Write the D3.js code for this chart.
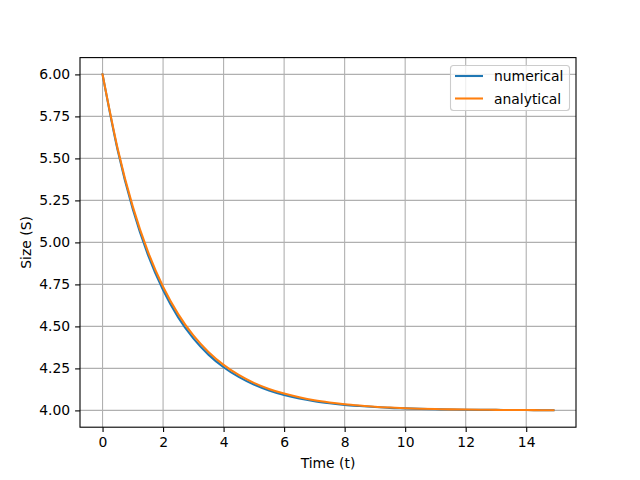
<!DOCTYPE html>
<html><head><meta charset="utf-8">
<script src="https://cdn.jsdelivr.net/npm/d3@7"></script>
<style>body{margin:0;background:#fff}svg{display:block;font-family:"DejaVu Sans",sans-serif}</style>
</head><body><svg id="c" width="640" height="480"></svg>
<script>
const times = [0,0.5,1,1.5,2,2.5,3,3.5,4,4.5,5,5.5,6,6.5,7,7.5,8,8.5,9,9.5,10,10.5,11,11.5,12,12.5,13,13.5,14,14.5,14.9];
const numerical = [6.000,5.548,5.197,4.926,4.717,4.554,4.429,4.332,4.257,4.199,4.154,4.119,4.092,4.071,4.055,4.043,4.033,4.026,4.020,4.015,4.012,4.009,4.007,4.005,4.004,4.003,4.003,4.002,4.002,4.001,4.001];
const analytical = [6.000,5.558,5.213,4.945,4.736,4.573,4.446,4.348,4.271,4.211,4.164,4.128,4.100,4.078,4.060,4.047,4.037,4.029,4.022,4.017,4.013,4.010,4.008,4.006,4.005,4.004,4.003,4.002,4.002,4.001,4.001];
const xTicks = [0,2,4,6,8,10,12,14];
const yTicks = [4.00,4.25,4.50,4.75,5.00,5.25,5.50,5.75,6.00];
const seriesNames = ["numerical","analytical"];
const colors = ["#1f77b4","#ff7f0e"];

const L=80,R=576,T=57.6,B=427.2;
const svg=d3.select("#c");
const x=d3.scaleLinear().domain([-0.745,15.645]).range([L,R]);
const y=d3.scaleLinear().domain([3.9,6.1]).range([B,T]);
const fs="13.9px";

// grid
const g=svg.append("g");
g.selectAll(".gx").data(xTicks).enter().append("line")
 .attr("x1",d=>x(d)).attr("x2",d=>x(d)).attr("y1",T).attr("y2",B)
 .attr("stroke","#b0b0b0").attr("stroke-width",1.1);
g.selectAll(".gy").data(yTicks).enter().append("line")
 .attr("y1",d=>y(d)).attr("y2",d=>y(d)).attr("x1",L).attr("x2",R)
 .attr("stroke","#b0b0b0").attr("stroke-width",1.1);

// lines
const series=[numerical,analytical];
const line=d3.line().x((d,i)=>x(times[i])).y(d=>y(d)).curve(d3.curveMonotoneX);
series.forEach((s,k)=>{
 svg.append("path").datum(s).attr("d",line).attr("fill","none")
  .attr("stroke",colors[k]).attr("stroke-width",2.08).attr("stroke-linecap","square");
});

// axes
const xa=svg.append("g").attr("transform",`translate(0,${B})`)
 .call(d3.axisBottom(x).tickValues(xTicks).tickSize(4.9).tickPadding(4.9).tickFormat(d3.format("d")));
const ya=svg.append("g").attr("transform",`translate(${L},0)`)
 .call(d3.axisLeft(y).tickValues(yTicks).tickSize(4.9).tickPadding(4.9).tickFormat(d3.format(".2f")));
[xa,ya].forEach(a=>{a.select(".domain").remove();
 a.selectAll("text").attr("font-size",fs).attr("font-family","DejaVu Sans").attr("fill","#000");
 a.selectAll("line").attr("stroke","#000").attr("stroke-width",1.1);});

svg.append("rect").attr("x",L).attr("y",T).attr("width",R-L).attr("height",B-T)
 .attr("fill","none").attr("stroke","#000").attr("stroke-width",1.1);

svg.append("text").attr("x",(L+R)/2).attr("y",468).attr("text-anchor","middle")
 .attr("font-size",fs).text("Time (t)");
svg.append("text").attr("transform",`translate(31,${(T+B)/2}) rotate(-90)`).attr("text-anchor","middle")
 .attr("font-size",fs).text("Size (S)");

// legend
const lg=svg.append("g");
lg.append("rect").attr("x",450.5).attr("y",65.5).attr("width",119).attr("height",45).attr("rx",3)
 .attr("fill","#fff").attr("fill-opacity",0.8).attr("stroke","#cccccc").attr("stroke-width",1.1);
seriesNames.forEach((n,k)=>{
 const yy=76+k*22.5;
 lg.append("line").attr("x1",455).attr("x2",483).attr("y1",yy).attr("y2",yy)
  .attr("stroke",colors[k]).attr("stroke-width",2.08);
 lg.append("text").attr("x",494).attr("y",yy+5).attr("font-size",fs).text(n);
});
</script></body></html>
